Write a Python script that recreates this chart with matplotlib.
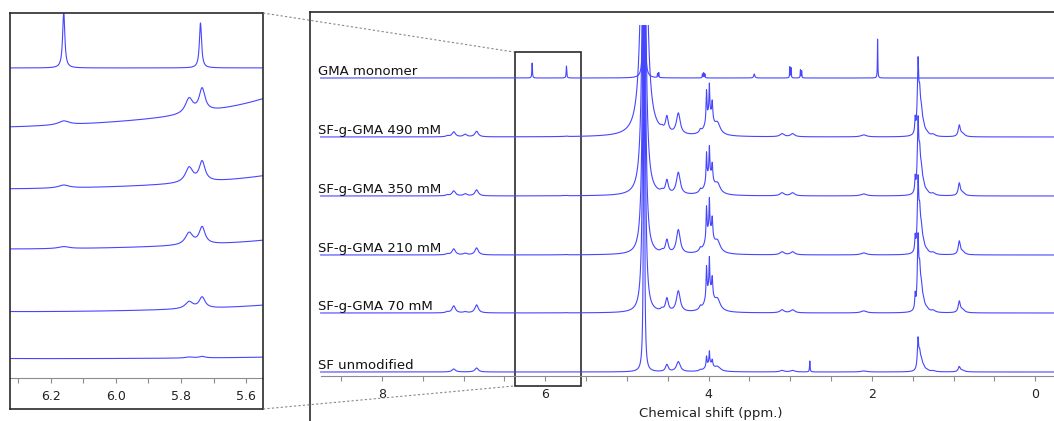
import numpy as np
import matplotlib
matplotlib.use("Agg")
import matplotlib.pyplot as plt
from matplotlib.patches import Rectangle
from matplotlib.lines import Line2D
from matplotlib.ticker import MultipleLocator, FormatStrFormatter

# spectra, bottom to top
names = ['SF unmodified', 'SF-g-GMA 70 mM', 'SF-g-GMA 210 mM',
         'SF-g-GMA 350 mM', 'SF-g-GMA 490 mM', 'GMA monomer']

# silk fibroin peaks shared by the SF traces: shift (ppm) and half width (ppm)
sf_shifts = [7.20, 7.12, 6.98, 6.84, 6.16, 5.775, 5.735, 4.57, 4.51, 4.37,
             4.10, 4.025, 3.99, 3.955, 3.99, 3.89, 3.10, 2.97, 2.76, 2.10,
             1.47, 1.435, 1.415, 1.395, 1.37, 1.33, 1.25, 0.93, 0.89]
sf_widths = [0.02, 0.025, 0.025, 0.025, 0.02, 0.014, 0.011, 0.02, 0.02, 0.028,
             0.015, 0.006, 0.005, 0.008, 0.05, 0.04, 0.03, 0.03, 0.004, 0.04,
             0.006, 0.010, 0.012, 0.015, 0.02, 0.03, 0.03, 0.015, 0.03]

# peak heights for each SF trace (same order as sf_shifts)
h_sf = [0, 3, 0, 4, 0, 0.02, 0.03, 0, 7, 10,
        1, 10, 12, 6, 8, 4, 1.5, 1.5, 11, 1,
        0, 30, 14, 8, 4, 1.5, 1, 5, 1.5]
h_70 = [1, 7, 1, 8, 0, 0.14, 0.22, 2, 13, 21,
        3, 30, 30, 18, 23, 10, 3, 3, 0, 2,
        14, 68, 32, 18, 8, 3, 2, 11, 3]
h_210 = [1, 6, 1.5, 7, 0.04, 0.24, 0.34, 2, 13, 24,
         3, 31, 30, 19, 24, 10, 3, 3, 0, 2,
         14, 68, 32, 18, 8, 3, 2, 13, 3]
h_350 = [1, 5, 2, 6, 0.06, 0.30, 0.40, 2, 13, 22,
         3, 28, 26, 16, 21, 9, 3, 3, 0, 2,
         14, 68, 32, 18, 8, 3, 2, 12, 3]
h_490 = [1, 5, 2.5, 5.5, 0.08, 0.30, 0.46, 2, 15, 21,
         3, 30, 28, 18, 22, 10, 3, 3, 0, 2,
         14, 68, 32, 18, 8, 3, 2, 11, 3]

# residual water (HOD) line: height and half width per SF trace
water_shift = 4.79
water_height = [400, 400, 400, 400, 400]
water_width = [0.007, 0.0152, 0.0176, 0.0218, 0.0324]

# GMA monomer: shift, height, half width
mono_shifts = [6.16, 5.74, 4.79, 4.625, 4.61, 4.075, 4.06, 4.045, 3.44,
               3.005, 2.99, 2.875, 2.86, 1.93]
mono_heights = [15, 12, 400, 4, 5, 4, 5, 4, 4, 11, 10, 8, 7, 39]
mono_widths = [0.004, 0.004, 0.006, 0.003, 0.003, 0.003, 0.003, 0.003, 0.008,
               0.003, 0.003, 0.003, 0.003, 0.003]

# vertical gain of each trace in the 6.3-5.55 ppm zoom
zoom_gain = [50, 50, 50, 50, 50, 3.75]


def spectrum(x, shifts, heights, widths):
    s = np.zeros_like(x)
    for c, h, w in zip(shifts, heights, widths):
        if h:
            s += h * w**2 / (w**2 + (x - c)**2)
    return s


def build(x):
    out = []
    for i, h in enumerate([h_sf, h_70, h_210, h_350, h_490]):
        s = spectrum(x, sf_shifts, h, sf_widths)
        s += spectrum(x, [water_shift], [water_height[i]], [water_width[i]])
        out.append(s)
    out.append(spectrum(x, mono_shifts, mono_heights, mono_widths))
    return out


W, H = 1054, 421
line_col = '#4646ff'
axis_col = '#8c8c8c'
frame_col = '#2b2b2b'

fig = plt.figure(figsize=(W / 100, H / 100), dpi=100)

# ---- main stacked plot
x = np.linspace(8.75, -0.3, 24000)
specs = build(x)
offsets = [0, 59, 117, 176, 235, 294]

ax = fig.add_axes([310 / W, (H - 376) / H, (W - 310) / W, (376 - 25) / H])
for s, off in zip(specs, offsets):
    ax.plot(x, s + off, color=line_col, lw=0.8)
for name, off in zip(names, offsets):
    ax.text(8.78, off + 3, name, fontsize=9.5, va='baseline', ha='left', color='#111111')

ax.set_xlim(8.88, -0.23)
ax.set_ylim(-4, 347)
ax.patch.set_alpha(0)
for sp in ['top', 'left', 'right']:
    ax.spines[sp].set_visible(False)
ax.spines['bottom'].set_color(axis_col)
ax.spines['bottom'].set_bounds(8.75, -0.23)
ax.set_yticks([])
ax.set_xticks([8, 6, 4, 2, 0])
ax.xaxis.set_minor_locator(MultipleLocator(0.5))
ax.tick_params(axis='x', which='both', direction='out', length=3.5, width=0.8,
               color=axis_col, labelsize=9, pad=5, labelcolor='#222222')
ax.add_patch(Rectangle((5.56, -14), 6.375 - 5.56, 334, fill=False,
                       ec=frame_col, lw=1.2, clip_on=False))

frame = fig.add_axes([310 / W, -0.01, 1 - 310 / W + 0.01, (H - 12) / H + 0.01])
frame.patch.set_alpha(0)
frame.set_xticks([])
frame.set_yticks([])
for sp in ['bottom', 'right']:
    frame.spines[sp].set_visible(False)
for sp in ['top', 'left']:
    frame.spines[sp].set_color(frame_col)
    frame.spines[sp].set_linewidth(1.2)

fig.text(711 / W, 1 - 413 / H, 'Chemical shift (ppm.)', fontsize=9.5,
         ha='center', va='center', color='#222222')

# ---- zoomed inset of the vinyl region
xi = np.linspace(6.34, 5.54, 4000)
zspecs = build(xi)
zoffsets = [18, 62, 124, 183, 240, 310]

axi = fig.add_axes([10 / W, (H - 378) / H, 253 / W, (378 - 13) / H])
for s, off, g in zip(zspecs, zoffsets, zoom_gain):
    axi.plot(xi, s * g + off, color=line_col, lw=0.8)
axi.set_xlim(6.325, 5.548)
axi.set_ylim(0, 365)
axi.patch.set_alpha(0)
for sp in ['top', 'left', 'right']:
    axi.spines[sp].set_visible(False)
axi.spines['bottom'].set_color(axis_col)
axi.set_yticks([])
axi.set_xticks([6.2, 6.0, 5.8, 5.6])
axi.xaxis.set_major_formatter(FormatStrFormatter('%.1f'))
axi.xaxis.set_minor_locator(MultipleLocator(0.1))
axi.tick_params(axis='x', which='both', direction='out', length=3.5, width=0.8,
                color=axis_col, labelsize=9, pad=5, labelcolor='#222222')

iframe = fig.add_axes([10 / W, (H - 409) / H, 253 / W, (409 - 13) / H])
iframe.patch.set_alpha(0)
iframe.set_xticks([])
iframe.set_yticks([])
for sp in iframe.spines.values():
    sp.set_color(frame_col)
    sp.set_linewidth(1.2)

# dashed connectors between the box and the inset
for (x0, y0), (x1, y1) in [((263, 13), (514, 52)), ((263, 409), (514, 386))]:
    fig.add_artist(Line2D([x0 / W, x1 / W], [1 - y0 / H, 1 - y1 / H],
                          transform=fig.transFigure, color='#888888',
                          lw=0.8, ls=(0, (2, 2))))

fig.savefig('out.png', dpi=100)
